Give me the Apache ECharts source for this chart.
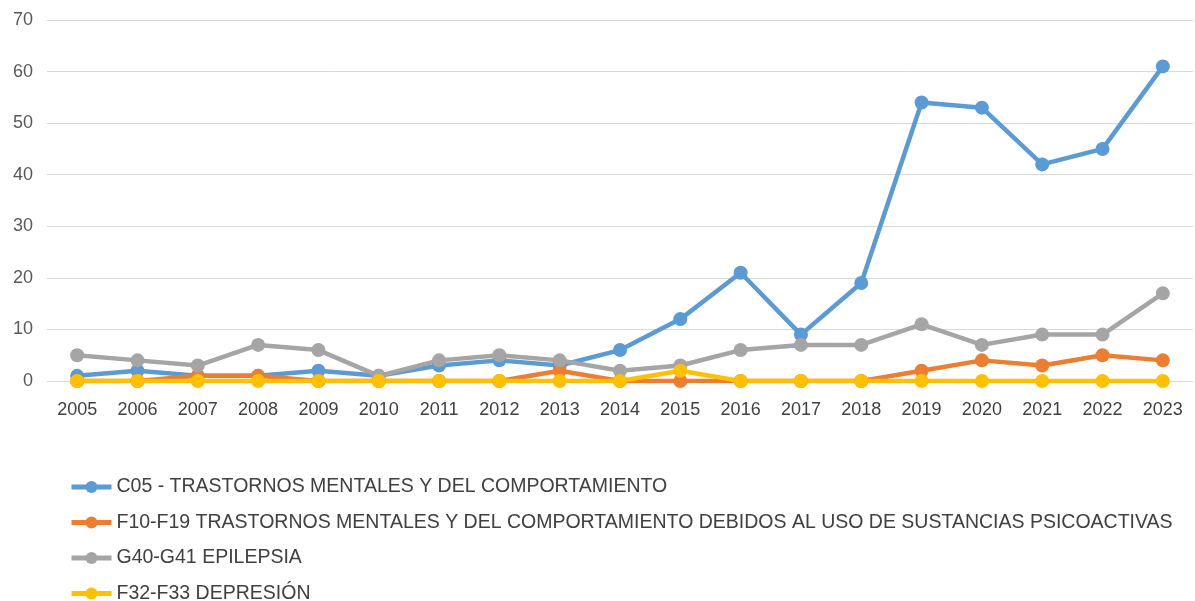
<!DOCTYPE html>
<html>
<head>
<meta charset="utf-8">
<script src="https://cdn.jsdelivr.net/npm/echarts@6/dist/echarts.min.js"></script>
<style>
  html, body { margin: 0; padding: 0; background: #fff; }
  #chart { width: 1195px; height: 601px; }
</style>
</head>
<body>
<div id="chart"></div>
<script>
// años
const years = ['2005','2006','2007','2008','2009','2010','2011','2012','2013','2014',
  '2015','2016','2017','2018','2019','2020','2021','2022','2023'];

const seriesNames = [
  'C05 - TRASTORNOS MENTALES Y DEL COMPORTAMIENTO',
  'F10-F19 TRASTORNOS MENTALES Y DEL COMPORTAMIENTO DEBIDOS AL USO DE SUSTANCIAS PSICOACTIVAS',
  'G40-G41 EPILEPSIA',
  'F32-F33 DEPRESIÓN'
];

const c05 = [1, 2, 1, 1, 2, 1, 3, 4, 3, 6, 12, 21, 9, 19, 54, 53, 42, 45, 61];
const f10 = [0, 0, 1, 1, 0, 0, 0, 0, 2, 0, 0, 0, 0, 0, 2, 4, 3, 5, 4];
const g40 = [5, 4, 3, 7, 6, 1, 4, 5, 4, 2, 3, 6, 7, 7, 11, 7, 9, 9, 17];
const f32 = [0, 0, 0, 0, 0, 0, 0, 0, 0, 0, 2, 0, 0, 0, 0, 0, 0, 0, 0];

const colors = ['#5B9BD5', '#ED7D31', '#A5A5A5', '#FFC000'];
const fontFam = 'Liberation Sans, Arial, sans-serif';

const chart = echarts.init(document.getElementById('chart'));

function mkSeries(name, data, color) {
  return {
    name: name,
    type: 'line',
    data: data,
    color: color,
    symbol: 'circle',
    symbolSize: 14,
    lineStyle: { width: 4.5, color: color },
    itemStyle: { color: color },
    animation: false
  };
}

chart.setOption({
  backgroundColor: '#fff',
  textStyle: { fontFamily: fontFam },
  grid: { left: 47, right: 2, top: 20, bottom: 220 },
  legend: {
    orient: 'vertical',
    left: 64,
    top: 472,
    height: 135,
    itemWidth: 40,
    itemHeight: 15,
    itemGap: 15.5,
    lineStyle: { width: 5 },
    textStyle: { fontSize: 19.5, color: '#404040', fontFamily: fontFam },
    data: seriesNames
  },
  xAxis: {
    type: 'category',
    data: years,
    boundaryGap: true,
    axisLine: { show: false },
    axisTick: { show: false },
    axisLabel: { fontSize: 18, color: '#404040', margin: 20, fontFamily: fontFam }
  },
  yAxis: {
    type: 'value',
    min: 0,
    max: 70,
    interval: 10,
    axisLine: { show: false },
    axisTick: { show: false },
    axisLabel: { fontSize: 18, color: '#595959', margin: 14, fontFamily: fontFam },
    splitLine: { lineStyle: { color: '#D9D9D9', width: 1 } }
  },
  series: [
    mkSeries(seriesNames[0], c05, colors[0]),
    mkSeries(seriesNames[1], f10, colors[1]),
    mkSeries(seriesNames[2], g40, colors[2]),
    mkSeries(seriesNames[3], f32, colors[3])
  ]
});
</script>
</body>
</html>
